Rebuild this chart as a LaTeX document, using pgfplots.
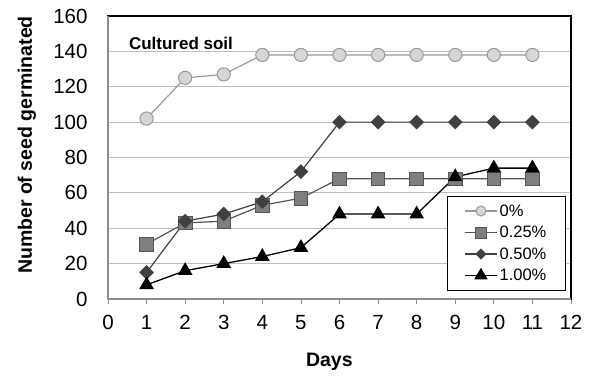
\documentclass[border=0pt]{standalone}
\usepackage{fontspec}
\setmainfont{Liberation Sans}
\usepackage{pgfplots}
\pgfplotsset{compat=1.18}
\definecolor{gridgray}{HTML}{BEBEBE}
\definecolor{axgray}{HTML}{8C8C8C}
\definecolor{lightfill}{HTML}{D6D6D6}
\definecolor{lightedge}{HTML}{999999}
\definecolor{midfill}{HTML}{7F7F7F}
\definecolor{midedge}{HTML}{555555}
\definecolor{darkfill}{HTML}{404040}
\begin{document}
\begin{tikzpicture}
\useasboundingbox (-108pt,-80pt) rectangle (484pt,299pt);
\begin{axis}[
  at={(0pt,0pt)}, anchor=south west,
  scale only axis, width=463pt, height=283pt,
  xmin=0, xmax=12, ymin=0, ymax=160,
  xtick={0,1,...,12}, ytick={0,20,...,160},
  /pgf/number format/assume math mode=true,
  ticklabel style={font=\fontsize{20.5}{23}\selectfont},
  xticklabel style={yshift=-8pt},
  yticklabel style={xshift=-12pt},
  ymajorgrids, major grid style={gridgray, line width=1.2pt},
  tick pos=bottom, tick align=outside,
  major tick length=5pt,
  xtick style={axgray, line width=0.8pt},
  ytick style={draw=none},
  axis line style={black, line width=1.3pt},
  xlabel={Days},
  ylabel={Number of seed germinated},
  every axis x label/.style={at={(rel axis cs:0.478,0)}, yshift=-63pt,
    anchor=center, font=\bfseries\fontsize{19.5}{22}\selectfont},
  every axis y label/.style={at={(rel axis cs:0,0.544)}, xshift=-81pt,
    rotate=90, anchor=center, font=\bfseries\fontsize{19.5}{22}\selectfont},
  legend style={at={(rel axis cs:0.989,0.364)}, anchor=north east,
    draw=black, line width=1pt, font=\fontsize{16.5}{19}\selectfont,
    row sep=4.5pt, inner xsep=17pt, inner ysep=6pt},
  legend cell align=left,
  legend image code/.code={\draw[mark repeat=2, mark phase=2]
    plot coordinates {(0pt,0pt) (16pt,0pt) (32pt,0pt)};},
  clip=false,
]
\addplot[lightedge, line width=1.2pt, mark=*, mark size=6.6pt,
  mark options={fill=lightfill, draw=lightedge, line width=1pt},
  legend image post style={mark size=5pt}]
  coordinates {(1,102)(2,125)(3,127)(4,138)(5,138)(6,138)(7,138)(8,138)(9,138)(10,138)(11,138)};
\addlegendentry{0\%}
\addplot[midedge, line width=1.2pt, mark=square*, mark size=6.8pt,
  mark options={fill=midfill, draw=midedge, line width=0.8pt},
  legend image post style={mark size=5.5pt}]
  coordinates {(1,31)(2,43)(3,44)(4,53)(5,57)(6,68)(7,68)(8,68)(9,68)(10,68)(11,68)};
\addlegendentry{0.25\%}
\addplot[darkfill, line width=1.2pt, mark=square*, mark size=4.6pt,
  mark options={fill=darkfill, draw=darkfill, rotate=45},
  legend image post style={mark size=3.3pt}]
  coordinates {(1,15)(2,44)(3,48)(4,55)(5,72)(6,100)(7,100)(8,100)(9,100)(10,100)(11,100)};
\addlegendentry{0.50\%}
\addplot[black, line width=1.3pt, mark=triangle*, mark size=7.2pt,
  mark options={fill=black, draw=black},
  legend image post style={mark size=6.5pt}]
  coordinates {(1,8)(2,16)(3,20)(4,24)(5,29)(6,48)(7,48)(8,48)(9,69)(10,74)(11,74)};
\addlegendentry{1.00\%}
\node[anchor=base west, inner sep=0pt, font=\bfseries\fontsize{17}{19}\selectfont]
  at (axis cs:0.54,141) {Cultured soil};
\draw[axgray, line width=1.3pt] (rel axis cs:0,1) -- (rel axis cs:0,0) -- (rel axis cs:1,0);
\end{axis}
\end{tikzpicture}
\end{document}
